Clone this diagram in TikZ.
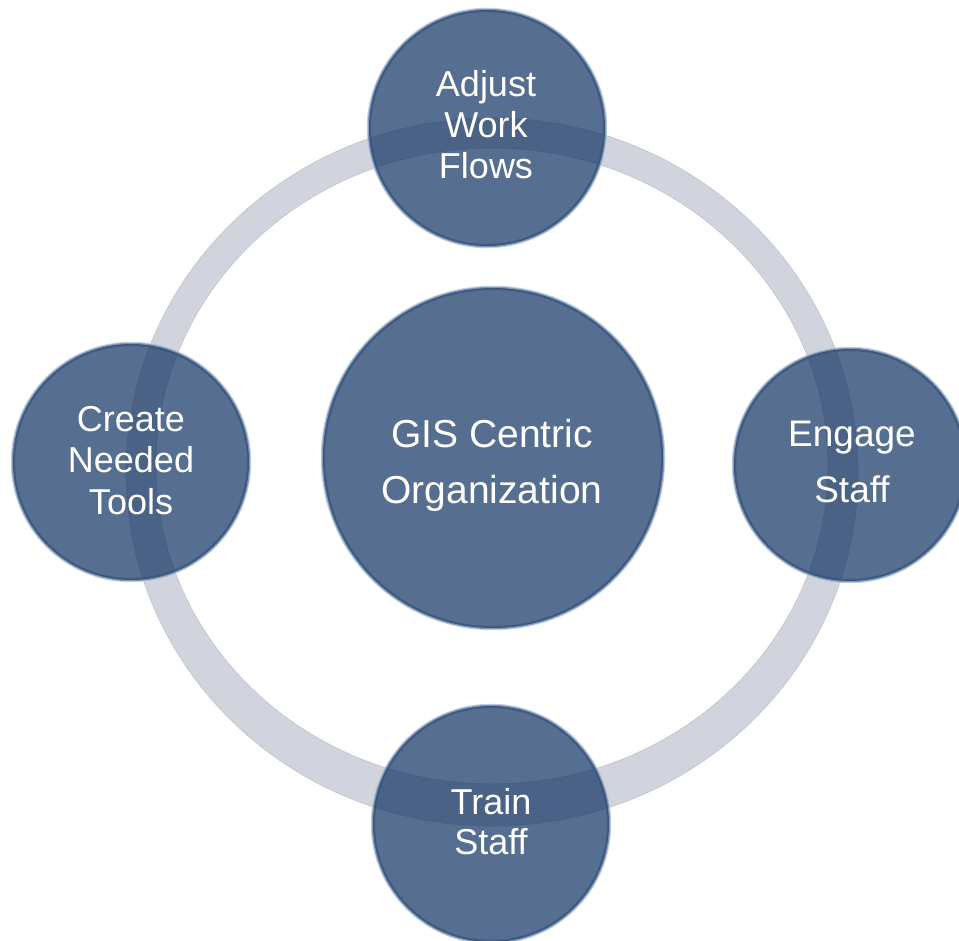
\documentclass[tikz,border=0pt]{standalone}
\usepackage{fontspec}
\setmainfont{Liberation Sans}
\begin{document}
\begin{tikzpicture}[x=1pt,y=-1pt]
\definecolor{ringc}{HTML}{D2D4DD}
\definecolor{ringedge}{HTML}{C0C3CE}
\definecolor{discc}{RGB}{15,50,97}
\definecolor{rimc}{HTML}{2C466B}
\definecolor{haloc}{HTML}{A9BEDA}
\tikzset{
  disc/.style={circle, inner sep=0pt, minimum size=#1,
    preaction={draw=haloc, draw opacity=0.7, line width=4.5pt},
    fill=discc, fill opacity=0.70, draw=rimc, draw opacity=0.4, line width=2.5pt},
  lbl/.style={text=white, align=center, inner sep=0pt},
}
\useasboundingbox (0,0) rectangle (959,941);
\fill[white] (0,0) rectangle (959,941);
% ring
\fill[ringc, even odd rule, draw=ringedge, line width=0.6pt]
  (492,472) ellipse [x radius=366, y radius=354]
  (492,466) ellipse [x radius=336, y radius=318];
% discs
\node[disc=236pt] (top) at (487,128) {};
\node[disc=232pt] (right) at (850,465) {};
\node[disc=236pt] (left) at (131,462) {};
\node[disc=236pt] (bottom) at (491,824) {};
\node[disc=340pt] (center) at (493,458) {};
% labels
\node[lbl, font=\fontsize{36}{41}\selectfont] (topT) at (486,124.5) {Adjust\\Work\\Flows};
\node[lbl, font=\fontsize{37}{56}\selectfont] (rightT) at (852,461.5) {Engage\\Staff};
\node[lbl, font=\fontsize{36}{41.5}\selectfont] (leftT) at (131,460.5) {Create\\Needed\\Tools};
\node[lbl, font=\fontsize{36}{40}\selectfont] (bottomT) at (491,822) {Train\\Staff};
\node[lbl, font=\fontsize{39}{56}\selectfont] (centerT) at (492,465) {GIS Centric\\Organization};
\end{tikzpicture}
\end{document}
